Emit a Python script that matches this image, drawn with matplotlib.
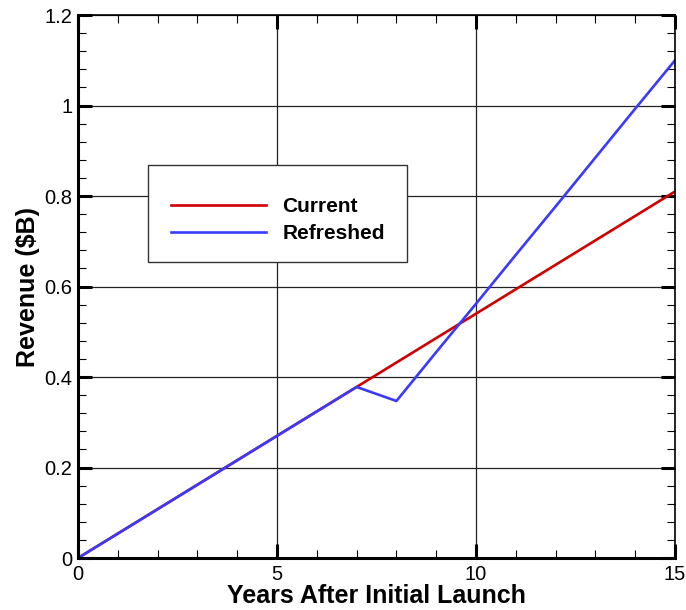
import numpy as np
import matplotlib.pyplot as plt
from matplotlib.patches import Rectangle
from matplotlib.ticker import MultipleLocator

# revenue per year after launch ($B)
years = [0, 1, 2, 3, 4, 5, 6, 7, 8, 9, 10, 11, 12, 13, 14, 15]
current = [0, 0.054, 0.108, 0.162, 0.216, 0.270, 0.324, 0.378, 0.432, 0.486,
           0.540, 0.594, 0.648, 0.702, 0.756, 0.810]
refreshed = [0, 0.054, 0.108, 0.162, 0.216, 0.270, 0.324, 0.378, 0.347, 0.455,
             0.562, 0.670, 0.777, 0.885, 0.993, 1.100]

plt.rcParams['font.family'] = ['Liberation Sans', 'DejaVu Sans']

fig = plt.figure(figsize=(6.86, 6.10), dpi=100)
ax = fig.add_axes([0.1137, 0.0852, 0.8703, 0.8902])

ax.plot(years, current, color='#d10000', lw=1.9, label='Current')
ax.plot(years, refreshed, color='#3a3aff', lw=1.9, label='Refreshed')

ax.set_xlim(0, 15)
ax.set_ylim(0, 1.2)
ax.xaxis.set_major_locator(MultipleLocator(5))
ax.xaxis.set_minor_locator(MultipleLocator(1))
ax.yaxis.set_major_locator(MultipleLocator(0.2))
ax.yaxis.set_minor_locator(MultipleLocator(0.04))
ax.set_yticks([0, 0.2, 0.4, 0.6, 0.8, 1.0, 1.2])
ax.set_yticklabels(['0', '0.2', '0.4', '0.6', '0.8', '1', '1.2'])

ax.grid(True, which='major', color='#222222', lw=0.9)
ax.set_axisbelow(True)

ax.tick_params(which='both', direction='in', top=True, right=True, labelsize=14.5)
ax.tick_params(axis='x', which='major', pad=5)
ax.tick_params(axis='y', which='major', pad=4)
ax.tick_params(which='major', length=10, width=2.2)
ax.tick_params(which='minor', length=6, width=0.8)
for side in ['left', 'bottom']:
    ax.spines[side].set_linewidth(2.2)
for side in ['top', 'right']:
    ax.spines[side].set_linewidth(1.2)

ax.set_xlabel('Years After Initial Launch', fontsize=18, fontweight='bold', labelpad=0)
ax.set_ylabel(r'Revenue (\$B)', fontsize=18, fontweight='bold', labelpad=3)

# legend box drawn on its own, entries placed inside without a frame
box = Rectangle((0.117, 0.545), 0.434, 0.179, transform=ax.transAxes,
                facecolor='white', edgecolor='#333333', lw=1.0, zorder=4)
ax.add_patch(box)
leg = ax.legend(loc='upper left', bbox_to_anchor=(0.155, 0.664),
                prop={'weight': 'bold', 'size': 15},
                handlelength=4.6, handletextpad=0.77, borderpad=0,
                borderaxespad=0, labelspacing=0.36, frameon=False)
leg.set_zorder(5)

fig.savefig('out.png', dpi=100)
